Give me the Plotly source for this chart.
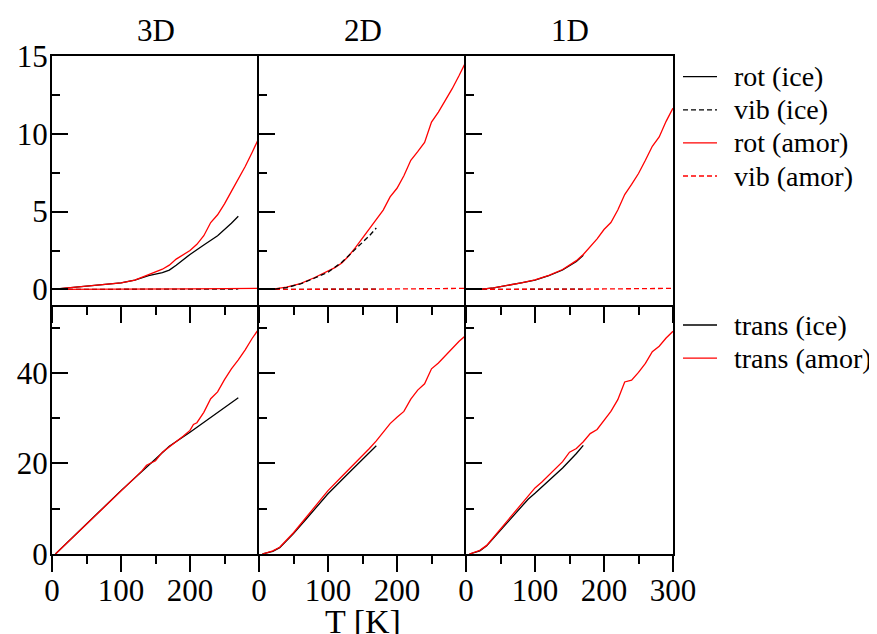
import plotly.graph_objects as go

# ---------------- data ----------------
# Top row: rotational / vibrational contributions
T_rot_ice_3d = [0, 20, 40, 60, 80, 100, 120, 140, 160, 170, 180, 200, 220, 240, 260, 270]
rot_ice_3d = [0, 0.08, 0.17, 0.25, 0.33, 0.42, 0.6, 0.88, 1.08, 1.24, 1.55, 2.25, 2.85, 3.45, 4.25, 4.7]
T_rot_amor_3d = [0, 20, 40, 60, 80, 100, 120, 140, 150, 160, 170, 180, 200, 210, 220, 230, 240, 250, 260, 270, 280, 290, 300]
rot_amor_3d = [0, 0.08, 0.17, 0.25, 0.33, 0.42, 0.6, 0.95, 1.12, 1.3, 1.56, 1.95, 2.5, 2.9, 3.45, 4.3, 4.8, 5.5, 6.3, 7.1, 7.9, 8.8, 9.75]

T_rot_ice_2d = [0, 20, 40, 60, 80, 100, 120, 140, 150, 160, 170]
rot_ice_2d = [0, 0.0, 0.12, 0.35, 0.72, 1.1, 1.75, 2.6, 3.0, 3.45, 3.95]
T_rot_amor_2d = [0, 20, 40, 60, 80, 100, 110, 120, 130, 140, 150, 160, 170, 180, 190, 200, 210, 220, 230, 240, 250, 260, 270, 280, 290, 300]
rot_amor_2d = [0, 0.02, 0.15, 0.38, 0.75, 1.15, 1.4, 1.7, 2.15, 2.7, 3.3, 3.85, 4.45, 5.1, 5.95, 6.5, 7.3, 8.3, 8.85, 9.45, 10.75, 11.4, 12.15, 12.9, 13.75, 14.65]

T_rot_ice_1d = [0, 20, 40, 60, 80, 100, 120, 140, 160, 170]
rot_ice_1d = [0, 0, 0.1, 0.25, 0.42, 0.6, 0.88, 1.25, 1.8, 2.2]
T_rot_amor_1d = [0, 20, 40, 60, 80, 100, 120, 140, 160, 170, 180, 190, 200, 210, 220, 230, 240, 250, 260, 270, 280, 290, 300]
rot_amor_1d = [0, 0.0, 0.1, 0.25, 0.42, 0.62, 0.9, 1.28, 1.85, 2.25, 2.75, 3.25, 3.85, 4.3, 5.1, 6.1, 6.75, 7.45, 8.3, 9.2, 9.8, 10.8, 11.65]

T_vib_ice_3d = [0, 50, 100, 150, 200, 270]
vib_ice_3d = [0, 0, 0.01, 0.01, 0.02, 0.03]
T_vib_ice = [0, 50, 100, 150, 170]
vib_ice = [0, 0, 0.01, 0.02, 0.02]
T_vib_amor = [0, 50, 100, 150, 200, 250, 300]
vib_amor = [0, 0, 0.01, 0.02, 0.03, 0.05, 0.07]

# Bottom row: translational contributions
T_trans_ice_3d = [5, 50, 100, 150, 170, 200, 250, 270]
trans_ice_3d = [0, 6.6, 14.0, 21.0, 23.8, 26.9, 32.3, 34.5]
T_trans_amor_3d = [5, 50, 100, 120, 130, 137, 150, 160, 170, 180, 190, 200, 205, 210, 220, 230, 240, 250, 260, 270, 280, 290, 300]
trans_amor_3d = [0, 6.6, 14.1, 17.0, 18.3, 19.6, 20.6, 22.5, 23.6, 24.8, 26.0, 27.3, 28.6, 29.0, 31.3, 34.3, 35.8, 38.5, 40.9, 42.9, 45.1, 47.6, 49.8]

T_trans_ice_2d = [5, 20, 30, 50, 70, 100, 130, 150, 170]
trans_ice_2d = [0, 0.6, 1.4, 4.5, 8.0, 13.3, 17.9, 20.9, 23.9]
T_trans_amor_2d = [5, 20, 30, 50, 70, 80, 90, 100, 120, 140, 160, 170, 180, 190, 200, 210, 220, 230, 240, 250, 260, 270, 280, 290, 300]
trans_amor_2d = [0, 0.7, 1.5, 4.7, 8.4, 10.3, 12.2, 14.0, 17.1, 20.1, 23.3, 25.0, 26.9, 28.8, 30.2, 31.5, 34.2, 36.2, 37.6, 40.9, 42.2, 43.8, 45.6, 47.0, 48.3]

T_trans_ice_1d = [5, 20, 30, 50, 70, 90, 100, 120, 140, 160, 170]
trans_ice_1d = [0, 0.7, 1.8, 5.2, 8.6, 12.1, 13.4, 16.2, 19.0, 22.2, 24.0]
T_trans_amor_1d = [5, 20, 30, 50, 70, 90, 100, 110, 120, 130, 140, 150, 160, 170, 180, 190, 200, 210, 220, 230, 240, 250, 260, 270, 280, 290, 300]
trans_amor_1d = [0, 0.8, 1.9, 5.6, 9.1, 13.0, 14.6, 15.9, 17.4, 19.0, 20.4, 22.5, 23.3, 24.8, 26.6, 27.5, 29.4, 31.5, 34.1, 38.0, 38.4, 40.1, 42.1, 44.7, 45.9, 47.7, 49.2]

column_titles = ["3D", "2D", "1D"]
x_label = "T [K]"
top_yticks = [0, 5, 10, 15]
bottom_yticks = [0, 20, 40]
top_legend_names = ["rot (ice)", "vib (ice)", "rot (amor)", "vib (amor)"]
bottom_legend_names = ["trans (ice)", "trans (amor)"]

# ---------------- figure ----------------
FONT = "Liberation Serif"
RED = "#ff0000"
BLACK = "#000000"
LW = 1.3
DASH = "5px,3px"
STYLE = {
    "rot (ice)": (BLACK, "solid"), "vib (ice)": (BLACK, DASH),
    "rot (amor)": (RED, "solid"), "vib (amor)": (RED, DASH),
    "trans (ice)": (BLACK, "solid"), "trans (amor)": (RED, "solid"),
}

# page body has an 8px margin -> compensate
W, H = 869, 626
ML, MT, MR, MB = 44, 48, 204, 80
PW = W - ML - MR   # 621
PH = H - MT - MB   # 498

fig = go.Figure()

def add(x, y, axis_idx, name, dash=None):
    color, d = STYLE[name]
    if dash is not None:
        d = dash
    xa = "x" if axis_idx == 1 else f"x{axis_idx}"
    ya = "y" if axis_idx == 1 else f"y{axis_idx}"
    fig.add_trace(go.Scatter(x=x, y=y, mode="lines", name=name,
                             line=dict(color=color, width=LW, dash=d),
                             xaxis=xa, yaxis=ya, showlegend=False))

add(T_rot_ice_3d, rot_ice_3d, 1, "rot (ice)")
add(T_vib_ice_3d, vib_ice_3d, 1, "vib (ice)")
add(T_vib_amor, vib_amor, 1, "vib (amor)", dash="solid")
add(T_rot_amor_3d, rot_amor_3d, 1, "rot (amor)")

add(T_vib_ice, vib_ice, 2, "vib (ice)")
add(T_vib_amor, vib_amor, 2, "vib (amor)")
add(T_rot_amor_2d, rot_amor_2d, 2, "rot (amor)")
add(T_rot_ice_2d, rot_ice_2d, 2, "rot (ice)", dash=DASH)

add(T_vib_ice, vib_ice, 3, "vib (ice)")
add(T_vib_amor, vib_amor, 3, "vib (amor)")
add(T_rot_ice_1d, rot_ice_1d, 3, "rot (ice)")
add(T_rot_amor_1d, rot_amor_1d, 3, "rot (amor)")

add(T_trans_ice_3d, trans_ice_3d, 4, "trans (ice)")
add(T_trans_amor_3d, trans_amor_3d, 4, "trans (amor)")
add(T_trans_ice_2d, trans_ice_2d, 5, "trans (ice)")
add(T_trans_amor_2d, trans_amor_2d, 5, "trans (amor)")
add(T_trans_ice_1d, trans_ice_1d, 6, "trans (ice)")
add(T_trans_amor_1d, trans_amor_1d, 6, "trans (amor)")

xdom = [[0, 1/3], [1/3, 2/3], [2/3, 1]]
tickfont = dict(family=FONT, size=31, color="black")
layout = {}
for i in range(6):
    idx = i + 1
    col = i % 3
    top = i < 3
    xname = "xaxis" if idx == 1 else f"xaxis{idx}"
    yname = "yaxis" if idx == 1 else f"yaxis{idx}"
    ya = "y" if idx == 1 else f"y{idx}"
    xa = "x" if idx == 1 else f"x{idx}"
    layout[xname] = dict(
        domain=xdom[col], anchor=ya, range=[0, 300],
        tickmode="array",
        tickvals=[0, 100, 200, 300] if col == 2 else [0, 100, 200],
        ticks="outside", ticklen=16, tickwidth=2, tickcolor="black",
        minor=dict(ticks="outside", ticklen=8, tickwidth=2, tickcolor="black",
                   tickmode="linear", tick0=50, dtick=100),
        showticklabels=not top, tickfont=tickfont, ticklabelstandoff=-8,
        showline=True, linecolor="black", linewidth=2, mirror=top,
        showgrid=False, zeroline=False,
    )
    layout[yname] = dict(
        domain=[0.5, 1] if top else [0, 0.5], anchor=xa,
        range=[-1, 15] if top else [0, 55],
        tickmode="array", tickvals=top_yticks if top else bottom_yticks,
        ticks="inside", ticklen=16, tickwidth=2, tickcolor="black",
        minor=dict(ticks="inside", ticklen=8, tickwidth=2, tickcolor="black",
                   tickmode="linear", tick0=2.5 if top else 10, dtick=5 if top else 20),
        showticklabels=(col == 0), tickfont=tickfont, ticklabelstandoff=-4,
        showline=True, linecolor="black", linewidth=2, mirror=(col == 2),
        showgrid=False, zeroline=False,
    )

annotations = []
shapes = []
for col, title in enumerate(column_titles):
    annotations.append(dict(text=title, x=(xdom[col][0] + xdom[col][1]) / 2, y=1 + 26 / PH,
                            xref="paper", yref="paper", showarrow=False,
                            xanchor="center", yanchor="middle",
                            font=dict(family=FONT, size=31, color="black")))
annotations.append(dict(text=x_label, x=(xdom[1][0] + xdom[1][1]) / 2, y=-47 / PH,
                        xref="paper", yref="paper", showarrow=False,
                        xanchor="center", yanchor="top",
                        font=dict(family=FONT, size=34, color="black")))

# legend blocks (keys + labels) to the right of the panels
def legend_block(names, first_row_px, row_gap_px):
    for k, name in enumerate(names):
        color, d = STYLE[name]
        yy = 1 - (first_row_px + k * row_gap_px) / PH
        shapes.append(dict(type="line", xref="paper", yref="paper",
                           x0=(683 - 52) / PW, x1=(717 - 52) / PW, y0=yy, y1=yy,
                           line=dict(color=color, width=LW, dash=d)))
        annotations.append(dict(text=name, x=(732 - 52) / PW, y=yy, xref="paper", yref="paper",
                                showarrow=False, xanchor="left", yanchor="middle",
                                font=dict(family=FONT, size=28, color="black")))

legend_block(top_legend_names, 76.7 - 56, 33.1)
legend_block(bottom_legend_names, 325 - 56, 33.1)

fig.update_layout(
    width=W, height=H,
    margin=dict(l=ML, r=MR, t=MT, b=MB, autoexpand=False),
    paper_bgcolor="white", plot_bgcolor="white",
    font=dict(family=FONT, color="black"),
    annotations=annotations, shapes=shapes,
    showlegend=False,
    **layout,
)

fig.write_html("out.html")
